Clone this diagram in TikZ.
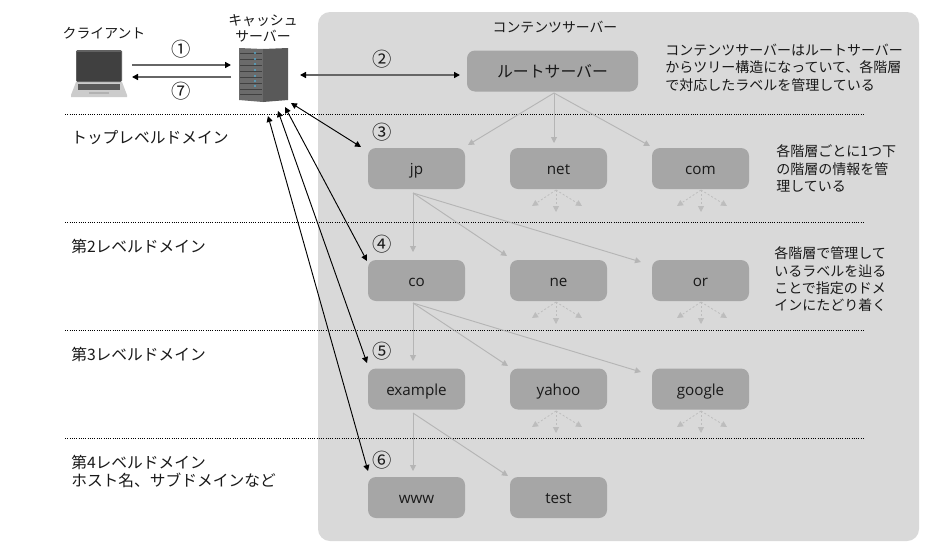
\documentclass[tikz,border=0pt]{standalone}
\usepackage{fontspec}
\usetikzlibrary{arrows.meta}
\setmainfont{Open Sans}
\newfontfamily\cjk{Noto Sans CJK JP}

\begin{document}
\begin{tikzpicture}[x=0.75pt,y=-0.75pt,>={Triangle[length=4.5pt,width=4.5pt]}]
        \tikzstyle{every node}+=[inner sep=0pt]
        \tikzstyle{notetext}=[font=\cjk\fontsize{10.5}{13}\selectfont,align=left,anchor=west,text=black!90]
        \tikzstyle{leveltext}=[font=\cjk\fontsize{11.8}{14.2}\selectfont,align=left,anchor=west,text=black!90]
        \tikzstyle{titletext}=[font=\cjk\fontsize{10.4}{12}\selectfont,align=center,text=black!90]
        \tikzstyle{numtext}=[font=\cjk\fontsize{14.5}{14.5}\selectfont,text=black!90]
        \tikzstyle{domainbox}=[fill=boxgray,rounded corners=6pt,minimum width=72.75pt,minimum height=30.75pt,text height=11pt,text depth=2pt,font=\fontsize{11.4}{12}\selectfont,text=black!90]
        \tikzstyle{levelline}=[black,densely dotted,line width=0.7pt]
        \tikzstyle{queryline}=[black,line width=0.7pt,<->]
        \tikzstyle{linkline}=[black!60,line width=1.1pt,{Triangle[length=4.5pt,width=4.5pt,color=black]}-{Triangle[length=4.5pt,width=4.5pt,color=black]}]
        \tikzstyle{pathline}=[black!60,line width=1.1pt,-{Triangle[length=4.5pt,width=4.5pt,color=black]}]
        \tikzstyle{treeline}=[linegray,line width=0.7pt,->]
        \tikzstyle{subline}=[fangray,line width=0.6pt,dash pattern=on 1.5pt off 1.5pt,->]
        \definecolor{panelgray}{HTML}{D9D9D9}
        \definecolor{boxgray}{HTML}{A6A6A6}
        \definecolor{linegray}{HTML}{B5B5B5}
        \definecolor{fangray}{HTML}{BDBDBD}
        \useasboundingbox (0,0) rectangle (931,557);
        \fill [white] (0,0) rectangle (931,557);
        \fill [panelgray,rounded corners=9pt] (318,12) rectangle (919,541);
        % level lines
        \coordinate (lineaw) at (65,114);
        \coordinate (lineae) at (865,114);
        \coordinate (linebw) at (65,222);
        \coordinate (linebe) at (865,222);
        \coordinate (linecw) at (65,330);
        \coordinate (linece) at (865,330);
        \coordinate (linedw) at (65,438);
        \coordinate (linede) at (865,438);
        \draw [levelline] (lineaw) -- (lineae);
        \draw [levelline] (linebw) -- (linebe);
        \draw [levelline] (linecw) -- (linece);
        \draw [levelline] (linedw) -- (linede);
        % client
        \fill [black!20] (76,82) -- (122,82) -- (127,95) -- (127,97) -- (71,97) -- (71,95) -- cycle;
        \fill [black!62,rounded corners=1pt] (76,50) rectangle (122,82);
        \fill [black!75] (77,52) rectangle (121,81);
        \fill [black!65] (78,84) rectangle (120,90);
        \fill [black!30] (89,92) rectangle (109,94);
        % server
        \fill [black!58] (239,48) -- (263,49) -- (263,102) -- (239,100) -- cycle;
        \fill [black!65] (263,49) -- (288,48) -- (288,100) -- (263,102) -- cycle;
        \draw [black!75,line width=0.5pt] (240,53) -- (262,53);
        \draw [black!75,line width=0.5pt] (240,59) -- (262,59);
        \draw [black!75,line width=0.5pt] (240,65) -- (262,65);
        \draw [black!75,line width=0.5pt] (240,71) -- (262,71);
        \draw [black!75,line width=0.5pt] (240,77) -- (262,77);
        \draw [black!75,line width=0.5pt] (240,83) -- (262,83);
        \draw [black!75,line width=0.5pt] (240,89) -- (262,89);
        \draw [black!75,line width=0.5pt] (240,94) -- (262,94);
        \fill [cyan!60!gray] (255,53) circle (0.9pt);
        \fill [cyan!60!gray] (255,59) circle (0.9pt);
        \fill [cyan!60!gray] (255,64) circle (0.9pt);
        \fill [cyan!60!gray] (255,70) circle (0.9pt);
        \fill [cyan!60!gray] (255,76) circle (0.9pt);
        \fill [cyan!60!gray] (255,81) circle (0.9pt);
        \fill [cyan!60!gray] (255,86) circle (0.9pt);
        % titles
        \node (clientname) [titletext] at (104,33) {クライアント};
        \node (servername) [titletext] at (263,28) {キャッシュ\\サーバー};
        \node (panelname) [titletext] at (555,27) {コンテンツサーバー};
        % domain boxes
        \node (root) [domainbox,minimum width=128.25pt,text height=,text depth=,font=\cjk\fontsize{11.9}{12}\selectfont] at (552.5,71) {ルートサーバー};
        \node (jp) [domainbox] at (416.5,168.5) {jp};
        \node (net) [domainbox] at (558.5,168.5) {net};
        \node (com) [domainbox] at (700.5,168.5) {com};
        \node (co) [domainbox] at (416.5,280.5) {co};
        \node (ne) [domainbox] at (558.5,280.5) {ne};
        \node (or) [domainbox] at (700.5,280.5) {or};
        \node (example) [domainbox] at (416.5,389) {example};
        \node (yahoo) [domainbox] at (558.5,389) {yahoo};
        \node (google) [domainbox] at (700.5,389) {google};
        \node (www) [domainbox] at (416.5,497.5) {www};
        \node (test) [domainbox] at (558.5,497.5) {test};
        % numbers
        \node (numa) [numtext] at (181,49) {①};
        \node (numg) [numtext] at (181,91) {⑦};
        \node (numb) [numtext] at (382,59) {②};
        \node (numc) [numtext] at (382,132) {③};
        \node (numd) [numtext] at (382,244) {④};
        \node (nume) [numtext] at (382,351) {⑤};
        \node (numf) [numtext] at (382,460) {⑥};
        % level names
        \node (levela) [leveltext] at (71,138) {トップレベルドメイン};
        \node (levelb) [leveltext] at (71,246) {第2レベルドメイン};
        \node (levelc) [leveltext] at (71,354) {第3レベルドメイン};
        \node (leveld) [leveltext] at (71,471.5) {第4レベルドメイン\\ホスト名、サブドメインなど};
        % notes
        \node (notea) [notetext] at (665,67.5) {コンテンツサーバーはルートサーバー\\からツリー構造になっていて、各階層\\で対応したラベルを管理している};
        \node (noteb) [notetext] at (776,168.5) {各階層ごとに1つ下\\の階層の情報を管\\理している};
        \node (notec) [notetext] at (774,279.5) {各階層で管理して\\いるラベルを辿る\\ことで指定のドメ\\インにたどり着く};
        % client and cache
        \coordinate (clienta) at (132,65);
        \coordinate (cachea) at (231,65);
        \coordinate (clientb) at (132,77);
        \coordinate (cacheb) at (231,77);
        \draw [pathline] (clienta) -- (cachea);
        \draw [pathline] (cacheb) -- (clientb);
        % cache and contents
        \coordinate (cacheroot) at (300,75);
        \coordinate (rootin) at (460,75);
        \coordinate (cachejp) at (291,103);
        \coordinate (jpin) at (361,147);
        \coordinate (cacheco) at (285,107);
        \coordinate (coin) at (367,261);
        \coordinate (cacheex) at (278,111);
        \coordinate (exin) at (367,363);
        \coordinate (cachewww) at (268,116);
        \coordinate (wwwin) at (368,471);
        \draw [linkline] (cacheroot) -- (rootin);
        \draw [queryline] (cachejp) -- (jpin);
        \draw [queryline] (cacheco) -- (coin);
        \draw [queryline] (cacheex) -- (exin);
        \draw [queryline] (cachewww) -- (wwwin);
        % tree
        \coordinate (rootfan) at (554,93);
        \coordinate (jpfan) at (413,193);
        \coordinate (cofan) at (413,303);
        \coordinate (exfan) at (413,413);
        \draw [treeline] (rootfan) -- (468,145) coordinate (jptop);
        \draw [treeline] (rootfan) -- (554,143) coordinate (nettop);
        \draw [treeline] (rootfan) -- (650,146) coordinate (comtop);
        \draw [treeline] (jpfan) -- (413,252) coordinate (cotop);
        \draw [treeline] (jpfan) -- (507,256) coordinate (netop);
        \draw [treeline] (jpfan) -- (641,262) coordinate (ortop);
        \draw [treeline] (cofan) -- (413,361) coordinate (extop);
        \draw [treeline] (cofan) -- (508,366) coordinate (yatop);
        \draw [treeline] (cofan) -- (641,372) coordinate (gotop);
        \draw [treeline] (exfan) -- (413,471) coordinate (wwwtop);
        \draw [treeline] (exfan) -- (508,476) coordinate (testtop);
        % lower levels not shown
        \coordinate (netfan) at (556,190);
        \coordinate (comfan) at (701,190);
        \coordinate (nefan) at (556,302);
        \coordinate (orfan) at (701,302);
        \coordinate (yafan) at (556,411);
        \coordinate (gofan) at (701,411);
        \draw [subline] (netfan) -- +(-24,16) coordinate (netl);
        \draw [subline] (netfan) -- +(0,22) coordinate (netm);
        \draw [subline] (netfan) -- +(26,16) coordinate (netr);
        \draw [subline] (comfan) -- +(-24,16) coordinate (coml);
        \draw [subline] (comfan) -- +(0,22) coordinate (comm);
        \draw [subline] (comfan) -- +(26,16) coordinate (comr);
        \draw [subline] (nefan) -- +(-24,16) coordinate (nel);
        \draw [subline] (nefan) -- +(0,22) coordinate (nem);
        \draw [subline] (nefan) -- +(26,16) coordinate (ner);
        \draw [subline] (orfan) -- +(-24,16) coordinate (orl);
        \draw [subline] (orfan) -- +(0,22) coordinate (orm);
        \draw [subline] (orfan) -- +(26,16) coordinate (orr);
        \draw [subline] (yafan) -- +(-24,16) coordinate (yal);
        \draw [subline] (yafan) -- +(0,22) coordinate (yam);
        \draw [subline] (yafan) -- +(26,16) coordinate (yar);
        \draw [subline] (gofan) -- +(-24,16) coordinate (gol);
        \draw [subline] (gofan) -- +(0,22) coordinate (gom);
        \draw [subline] (gofan) -- +(26,16) coordinate (gor);
\end{tikzpicture}
\end{document}
